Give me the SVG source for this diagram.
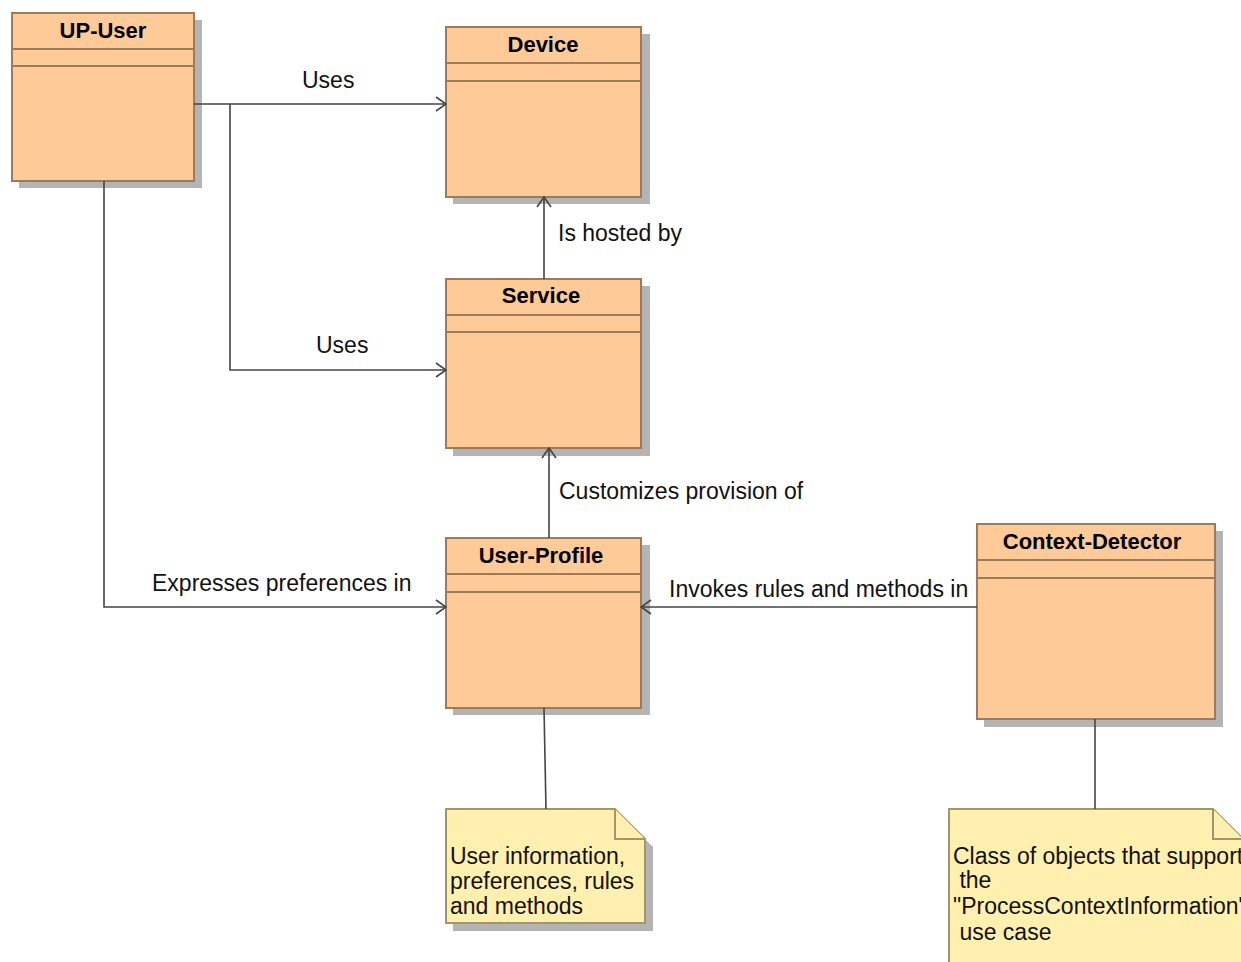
<svg xmlns="http://www.w3.org/2000/svg" width="1241" height="962" viewBox="0 0 1241 962">
  <style>
    .shadow { fill: #b4b4b4; }
    .cls { fill: #fecb98; stroke: #9c7a5a; stroke-width: 2; }
    .sep { stroke: #9c7a5a; stroke-width: 2; fill: none; }
    .title { font-family: "Liberation Sans", Arial, sans-serif; font-size: 22px; font-weight: bold; fill: #000; text-anchor: middle; }
    .lbl { font-family: "Liberation Sans", Arial, sans-serif; font-size: 23px; fill: #111; }
    .note { fill: #fff0b0; stroke: #a39665; stroke-width: 2; }
    .edge { stroke: #454545; stroke-width: 1.6; fill: none; }
    .arrow { stroke: #454545; stroke-width: 1.6; fill: none; }
  </style>
  <defs>
    <marker id="open" viewBox="0 0 12 16" refX="11" refY="8" markerWidth="12" markerHeight="16" markerUnits="userSpaceOnUse" orient="auto">
      <path d="M1,1 L11,8 L1,15" class="arrow"/>
    </marker>
  </defs>
  <rect width="1241" height="962" fill="#fff"/>

  <!-- Classes -->
  <g id="up-user">
    <rect class="shadow" x="19" y="20" width="183" height="168"/>
    <rect class="cls" x="12" y="13" width="182" height="168"/>
    <line class="sep" x1="12" y1="49" x2="194" y2="49"/>
    <line class="sep" x1="12" y1="66" x2="194" y2="66"/>
    <text class="title" x="103" y="38">UP-User</text>
  </g>

  <g id="device">
    <rect class="shadow" x="453" y="34" width="197" height="170"/>
    <rect class="cls" x="446" y="27" width="195" height="170"/>
    <line class="sep" x1="446" y1="63" x2="641" y2="63"/>
    <line class="sep" x1="446" y1="81" x2="641" y2="81"/>
    <text class="title" x="543" y="52">Device</text>
  </g>

  <g id="service">
    <rect class="shadow" x="453" y="286" width="197" height="170"/>
    <rect class="cls" x="446" y="279" width="195" height="169"/>
    <line class="sep" x1="446" y1="315" x2="641" y2="315"/>
    <line class="sep" x1="446" y1="332" x2="641" y2="332"/>
    <text class="title" x="541" y="303">Service</text>
  </g>

  <g id="user-profile">
    <rect class="shadow" x="453" y="545" width="197" height="170"/>
    <rect class="cls" x="446" y="538" width="195" height="170"/>
    <line class="sep" x1="446" y1="574" x2="641" y2="574"/>
    <line class="sep" x1="446" y1="592" x2="641" y2="592"/>
    <text class="title" x="541" y="563">User-Profile</text>
  </g>

  <g id="context-detector">
    <rect class="shadow" x="984" y="531" width="239" height="196"/>
    <rect class="cls" x="977" y="524" width="238" height="195"/>
    <line class="sep" x1="977" y1="560" x2="1215" y2="560"/>
    <line class="sep" x1="977" y1="578" x2="1215" y2="578"/>
    <text class="title" x="1092" y="549">Context-Detector</text>
  </g>

  <!-- Notes -->
  <g id="note-profile">
    <rect class="shadow" x="453" y="846" width="200" height="85"/>
    <polygon class="shadow" points="622,816 653,847 653,931 622,931"/>
    <polygon class="note" points="446,809 615,809 645,839 645,923 446,923"/>
    <polyline class="note" points="615,809 615,839 645,839"/>
    <text class="lbl" x="450" y="864">User information,</text>
    <text class="lbl" x="450" y="889">preferences, rules</text>
    <text class="lbl" x="450" y="914">and methods</text>
  </g>

  <g id="note-context">
    <polygon class="note" points="949,809 1213,809 1243,839 1243,964 949,964"/>
    <polyline class="note" points="1213,809 1213,839 1243,839"/>
    <text class="lbl" x="953" y="864" xml:space="preserve">Class of objects that support</text>
    <text class="lbl" x="953" y="888" xml:space="preserve"> the</text>
    <text class="lbl" x="953" y="914" xml:space="preserve">"ProcessContextInformation"</text>
    <text class="lbl" x="953" y="940" xml:space="preserve"> use case</text>
  </g>

  <!-- Connectors -->
  <g id="connectors">
    <path class="edge" d="M194,104 L446,104" marker-end="url(#open)"/>
    <path class="edge" d="M230,104 L230,370 L446,370" marker-end="url(#open)"/>
    <path class="edge" d="M104,181 L104,607 L446,607" marker-end="url(#open)"/>
    <path class="edge" d="M544,279 L544,197" marker-end="url(#open)"/>
    <path class="edge" d="M549,538 L549,448" marker-end="url(#open)"/>
    <path class="edge" d="M977,607 L641,607" marker-end="url(#open)"/>
    <path class="edge" d="M544,708 L546,809"/>
    <path class="edge" d="M1095,719 L1095,809"/>

    <text class="lbl" x="302" y="88">Uses</text>
    <text class="lbl" x="316" y="353">Uses</text>
    <text class="lbl" x="152" y="591">Expresses preferences in</text>
    <text class="lbl" x="558" y="241">Is hosted by</text>
    <text class="lbl" x="559" y="499">Customizes provision of</text>
    <text class="lbl" x="669" y="597">Invokes rules and methods in</text>
  </g>
</svg>
